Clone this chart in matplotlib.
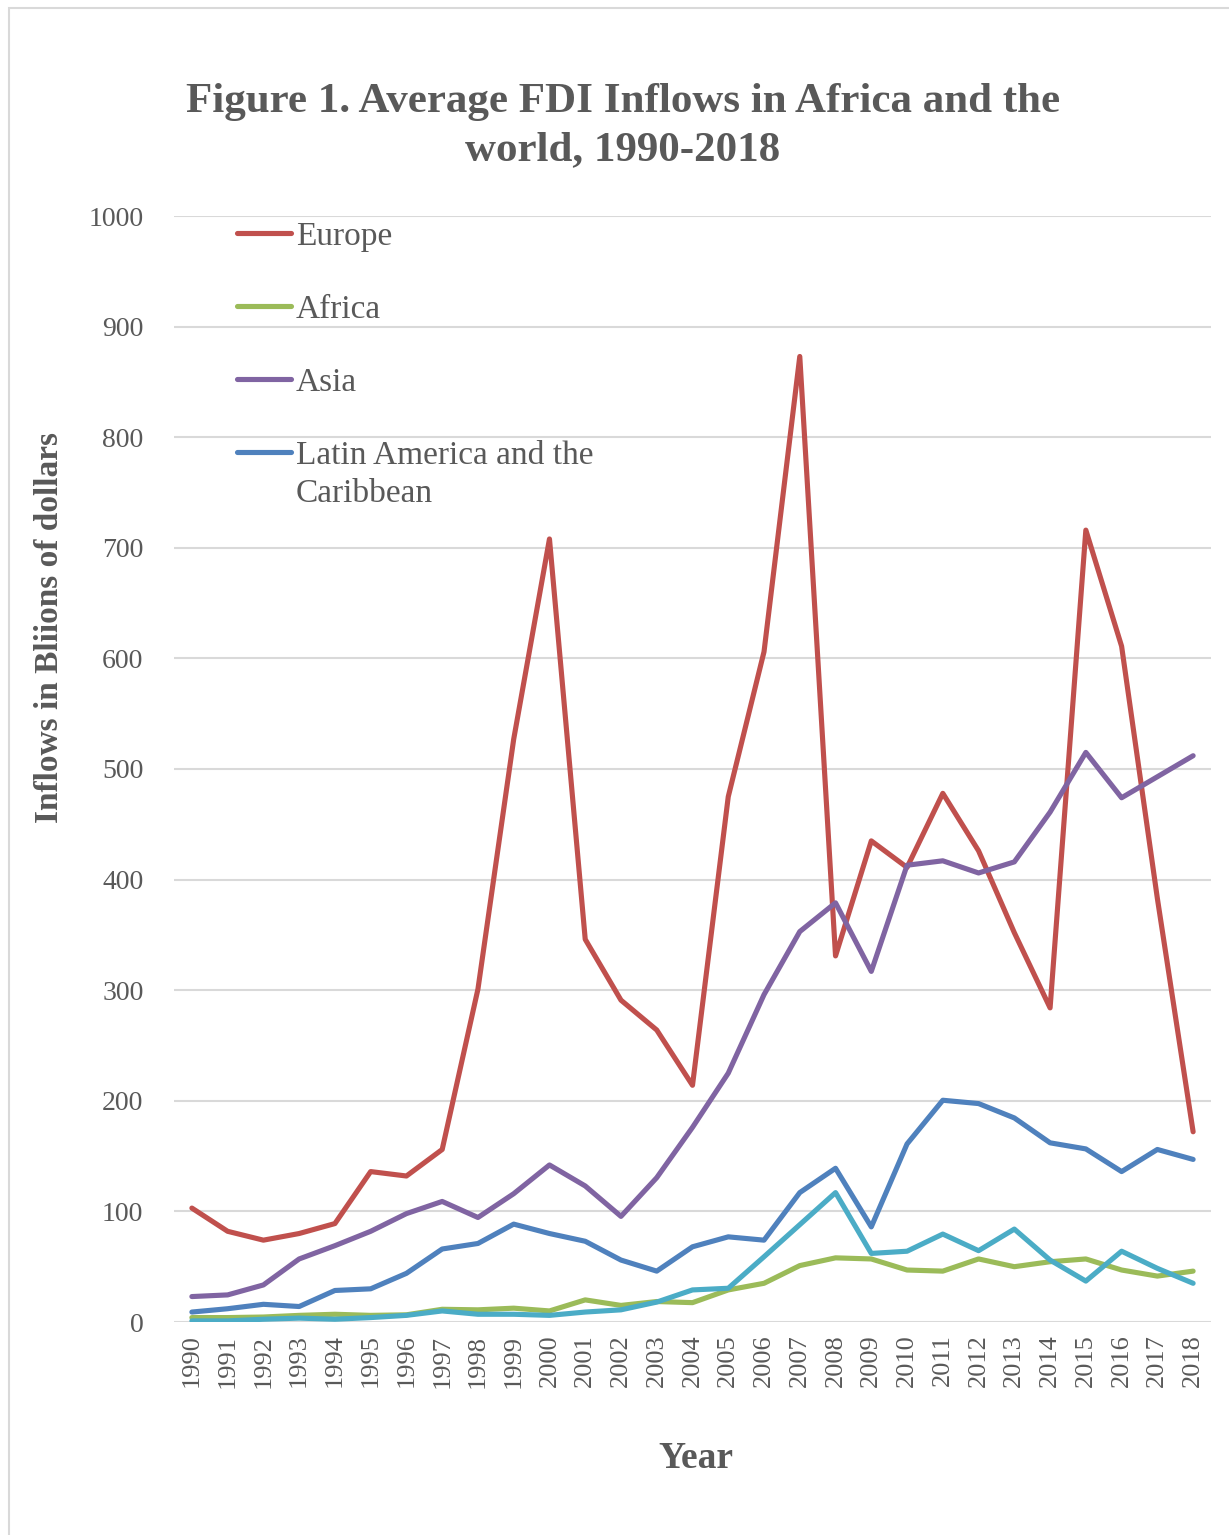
import numpy as np
import matplotlib
matplotlib.use("Agg")
import matplotlib.pyplot as plt
from matplotlib.patches import Rectangle

# ── Data (billions of dollars) ───────────────────────────────────────────────
YEARS = list(range(1990, 2019))

EUROPE = [103, 82, 74, 80, 89, 136, 132, 156, 301, 527, 708, 346, 291, 264, 214,
          475, 606, 873, 331, 435, 411, 478, 426, 352, 284, 716, 611, 383, 172]
AFRICA = [4, 4, 4.5, 6, 7, 6, 6.5, 11.5, 11, 12.5, 10, 20, 15, 18.5, 17.5,
          29, 35, 51, 58, 57, 47, 46, 57, 50, 54.5, 57, 47, 41.5, 46]
ASIA = [23, 24.5, 33.5, 57, 69, 82, 98, 109, 94.5, 116, 142, 123, 95.5, 130.5, 176,
        225, 296, 353, 379, 317, 413, 417, 406, 416, 461, 515, 474, 493, 512]
LATAM = [9, 12, 16, 14, 28.5, 30, 44, 66, 71, 88.5, 80, 73, 56, 46, 68,
         77, 74, 117, 139, 86, 161, 200.5, 197.5, 184.5, 162, 156.5, 136, 156, 147]
OTHER = [1, 1, 2.5, 3.5, 2.5, 4, 6, 10, 7, 7, 6, 9, 11, 18, 29,
         30.5, 59, 88, 117, 62, 64, 79.5, 64.5, 84, 56, 37, 64, 48.5, 35]

SERIES = [
    ("Europe", EUROPE, "#C0504D"),
    ("Africa", AFRICA, "#9BBB59"),
    ("Asia", ASIA, "#8064A2"),
    ("Latin America and the", LATAM, "#4F81BD"),
    (None, OTHER, "#4BACC6"),
]

GREY = "#595959"
GRID = "#D9D9D9"
SERIF = ["Liberation Serif", "DejaVu Serif"]

plt.rcParams["font.family"] = SERIF

# ── Figure ───────────────────────────────────────────────────────────────────
W, H = 1229, 1535
fig = plt.figure(figsize=(W / 100, H / 100), dpi=100)
ax = fig.add_axes([174 / W, 1 - 1322 / H, 1037 / W, 1106 / H])

x = np.arange(len(YEARS))
for label, vals, col in SERIES:
    ax.plot(x, vals, color=col, lw=3.7, solid_capstyle="round",
            solid_joinstyle="round", label=label if label else "_nolegend_")

ax.set_xlim(-0.5, len(YEARS) - 0.5)
ax.set_ylim(0, 1000)
ax.set_yticks(range(0, 1001, 100))
ax.set_xticks(x)
ax.set_xticklabels([str(y) for y in YEARS], rotation=90, fontsize=19, color=GREY)
ax.tick_params(axis="y", length=0, pad=22, labelsize=20, labelcolor=GREY)
ax.tick_params(axis="x", length=0, pad=9)

ax.grid(axis="y", color=GRID, lw=1.5)
ax.set_axisbelow(True)
for s in ax.spines.values():
    s.set_visible(False)

# ── Legend ───────────────────────────────────────────────────────────────────
leg = ax.legend(loc="upper left", bbox_to_anchor=(63 / 1037, 0.995), frameon=False,
                fontsize=24, handlelength=1.62, handletextpad=0.15,
                labelspacing=1.27, borderpad=0, borderaxespad=0)
for t in leg.get_texts():
    t.set_color(GREY)
latam_text = leg.get_texts()[3]
ax.annotate("Caribbean", xy=(0, 0), xycoords=latam_text, xytext=(0, -5.5),
            textcoords="offset points", va="top", ha="left", fontsize=24,
            color=GREY, zorder=10)

# ── Titles and axis labels ───────────────────────────────────────────────────
fig.text(623 / W, 1 - 83 / H, "Figure 1. Average FDI Inflows in Africa and the\nworld, 1990-2018",
         ha="center", va="top", fontsize=31, fontweight="bold", color=GREY,
         linespacing=1.35)
fig.text(50 / W, 1 - 627 / H, "Inflows in Bliions of dollars", rotation=90,
         ha="center", va="center", fontsize=24, fontweight="bold", color=GREY)
fig.text(696 / W, 1 - 1458 / H, "Year", ha="center", va="center",
         fontsize=27, fontweight="bold", color=GREY)

# chart frame (only top/left edges fall inside the crop)
fig.patches.append(Rectangle((9 / W, -0.05), 1.1, 1 - 8 / H + 0.05,
                             transform=fig.transFigure, fill=False,
                             edgecolor=GRID, lw=1.5))

fig.savefig("out.png", dpi=100)
